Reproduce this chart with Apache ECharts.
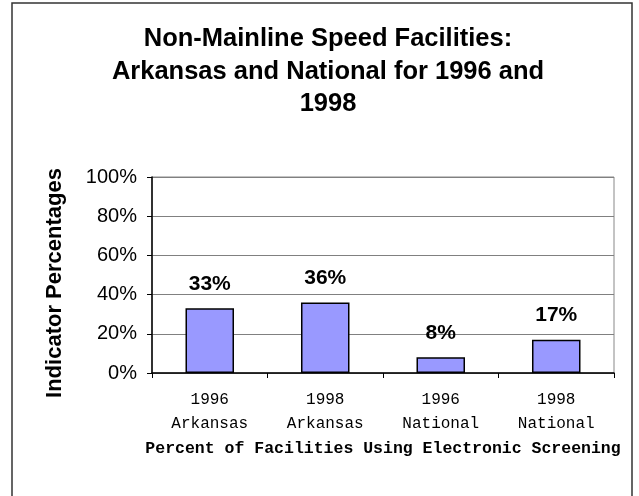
<!DOCTYPE html>
<html>
<head>
<meta charset="utf-8">
<script src="https://cdn.jsdelivr.net/npm/echarts@6/dist/echarts.min.js"></script>
<style>
  html, body { margin: 0; padding: 0; background: #fff; }
  #main { width: 639px; height: 496px; }
</style>
</head>
<body>
<div id="main"></div>
<script>
var categories = ['1996\nArkansas', '1998\nArkansas', '1996\nNational', '1998\nNational'];
var values = [33, 36, 8, 17];
var yTicks = [0, 20, 40, 60, 80, 100];

var myChart = echarts.init(document.getElementById('main'));

var option = {
    backgroundColor: '#fff',
    animation: false,
    title: {
        text: 'Non-Mainline Speed Facilities:\nArkansas and National for 1996 and\n1998',
        left: 323,
        top: 18,
        textAlign: 'center',
        textStyle: {
            fontFamily: 'Liberation Sans, Arial, sans-serif',
            fontSize: 25.5,
            fontWeight: 'bold',
            lineHeight: 32.5,
            color: '#000'
        }
    },
    graphic: [{
        type: 'rect',
        shape: { x: 12, y: 3, width: 620, height: 500 },
        style: { fill: 'none', stroke: '#333', lineWidth: 1.5 },
        silent: true
    }],
    grid: {
        left: 152,
        right: 25,
        top: 177,
        bottom: 123,
        show: true,
        borderColor: '#888',
        borderWidth: 1
    },
    xAxis: {
        type: 'category',
        data: categories,
        name: 'Percent of Facilities Using Electronic Screening',
        nameLocation: 'middle',
        nameGap: 67,
        nameTextStyle: {
            fontFamily: 'Liberation Mono, Courier New, monospace',
            fontWeight: 'bold',
            fontSize: 16.5,
            color: '#000'
        },
        axisLine: { lineStyle: { color: '#000', width: 1.5 } },
        axisTick: { show: true, length: 5, lineStyle: { color: '#000' } },
        axisLabel: {
            margin: 15,
            fontFamily: 'Liberation Mono, Courier New, monospace',
            fontSize: 16,
            lineHeight: 24,
            color: '#000'
        }
    },
    yAxis: {
        type: 'value',
        min: 0,
        max: 100,
        interval: 20,
        name: 'Indicator Percentages',
        nameLocation: 'middle',
        nameGap: 86,
        nameTextStyle: {
            fontFamily: 'Liberation Sans, Arial, sans-serif',
            fontWeight: 'bold',
            fontSize: 22,
            color: '#000',
            padding: [0, 16, 0, 0]
        },
        axisLine: { show: true, lineStyle: { color: '#000', width: 1.5 } },
        axisTick: { show: true, length: 5, lineStyle: { color: '#000' } },
        axisLabel: {
            margin: 15,
            fontFamily: 'Liberation Sans, Arial, sans-serif',
            fontSize: 20,
            color: '#000',
            formatter: function (v) {
                return yTicks.indexOf(v) >= 0 ? v + '%' : '';
            }
        },
        splitLine: { show: true, lineStyle: { color: '#808080', width: 1 } }
    },
    series: [{
        type: 'bar',
        data: values,
        barWidth: '42%',
        itemStyle: {
            color: '#9999FF',
            borderColor: '#000',
            borderWidth: 1.5
        },
        label: {
            show: true,
            position: 'top',
            distance: 14,
            formatter: '{c}%',
            fontFamily: 'Liberation Sans, Arial, sans-serif',
            fontSize: 21,
            fontWeight: 'bold',
            color: '#000'
        }
    }]
};

myChart.setOption(option);

window.onresize = function () {
    myChart.resize();
};
</script>
</body>
</html>
